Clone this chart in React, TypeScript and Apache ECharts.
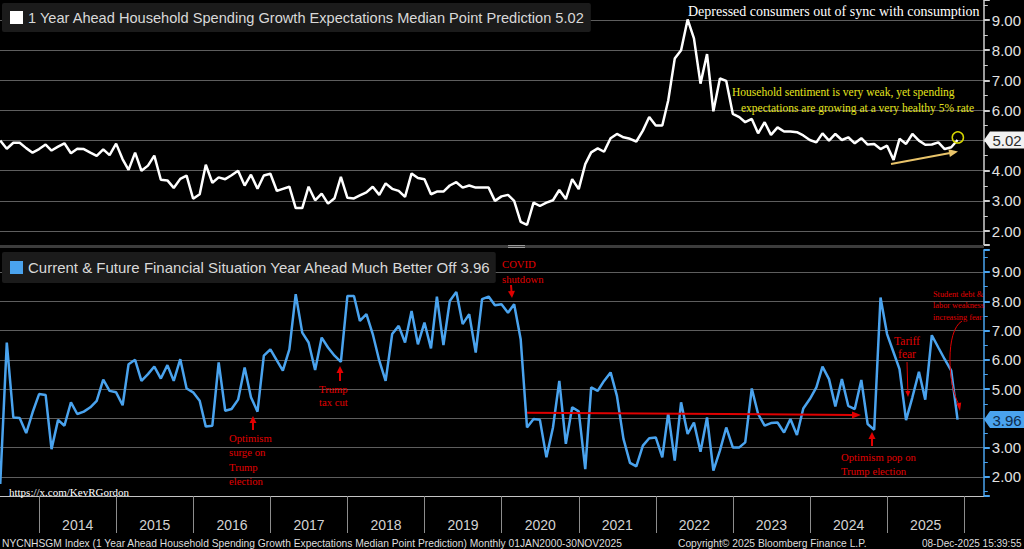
import React, { useEffect, useRef } from "react";
import * as echarts from "echarts";

// ---------- data (monthly, end of month, Jun 2013 .. Nov 2025) ----------
const START_YEAR = 2013;
const START_MONTH = 5; // June (0-based)

const spendingExpectations = [
  5.0, 4.73, 4.93, 4.93, 4.75, 4.6, 4.72, 4.87, 4.67, 4.8,
  4.91, 4.58, 4.73, 4.72, 4.6, 4.49, 4.71, 4.52, 4.9, 4.38,
  4.03, 4.6, 4.0, 4.17, 4.5, 3.7, 3.68, 3.43, 3.73, 3.84,
  3.07, 3.22, 4.2, 3.6, 3.78, 3.72, 3.85, 4.0, 3.51, 3.87,
  3.4, 3.84, 3.9, 3.33, 3.4, 3.47, 2.76, 2.76, 3.47, 3.02,
  3.24, 2.91, 3.09, 3.8, 3.1, 3.08, 3.18, 3.28, 3.47, 3.2,
  3.58, 3.4, 3.33, 3.13, 3.91, 3.76, 3.72, 3.22, 3.31, 3.31,
  3.51, 3.62, 3.44, 3.51, 3.44, 3.44, 3.44, 3.0, 3.15, 3.2,
  3.0, 2.3, 2.2, 2.94, 2.83, 2.94, 3.02, 3.36, 3.06, 3.72,
  3.39, 4.22, 4.61, 4.74, 4.63, 5.08, 5.22, 5.11, 5.06, 4.97,
  5.33, 5.78, 5.5, 5.5, 6.33, 7.72, 8.0, 9.02, 8.39, 6.89,
  7.87, 5.97, 7.06, 6.98, 5.89, 5.78, 5.61, 5.72, 5.24, 5.61,
  5.19, 5.44, 5.3, 5.3, 5.28, 5.17, 5.02, 4.94, 5.24, 5.0,
  5.22, 5.02, 5.11, 4.91, 5.08, 4.87, 4.89, 4.72, 4.83, 4.36,
  5.06, 4.89, 5.22, 5.0, 4.86, 4.87, 4.94, 4.72, 4.78, 5.02,
];

const financialBetterOff = [
  1.76, 6.59, 4.03, 4.01, 3.5, 4.2, 4.83, 4.8, 2.95, 3.95,
  3.75, 4.55, 4.15, 4.23, 4.38, 4.6, 5.32, 4.94, 4.89, 4.45,
  5.85, 6.0, 5.28, 5.51, 5.77, 5.36, 5.82, 5.28, 6.02, 5.02,
  4.89, 4.6, 3.72, 3.75, 5.91, 4.26, 4.32, 4.64, 5.74, 4.72,
  4.23, 6.14, 6.36, 5.97, 5.63, 6.36, 8.24, 6.93, 6.59, 5.65,
  6.76, 6.42, 6.14, 5.93, 8.18, 8.18, 7.33, 7.56, 6.88, 5.97,
  5.28, 6.88, 7.16, 6.59, 7.67, 6.53, 7.27, 6.39, 8.16, 6.5,
  8.01, 8.32, 7.22, 7.56, 6.25, 8.07, 8.16, 7.86, 7.9, 7.61,
  7.9, 6.7, 3.69, 3.98, 3.95, 2.67, 3.69, 5.28, 3.13, 4.38,
  4.24, 2.27, 5.06, 4.94, 5.28, 5.57, 4.77, 3.3, 2.48, 2.36,
  3.07, 3.32, 3.35, 2.67, 4.18, 2.56, 4.55, 3.47, 3.86, 2.86,
  4.03, 2.22, 2.9, 3.69, 3.01, 3.01, 3.18, 5.02, 4.15, 3.75,
  3.84, 3.86, 3.52, 3.98, 3.43, 4.34, 4.66, 5.06, 5.77, 5.34,
  4.41, 5.34, 4.43, 4.32, 5.31, 3.81, 3.61, 8.13, 6.88, 6.25,
  5.68, 3.94, 4.72, 5.59, 4.64, 6.84, 6.42, 6.02, 5.63, 3.96,
];

const yearLabels = [2014, 2015, 2016, 2017, 2018, 2019, 2020, 2021, 2022, 2023, 2024, 2025];
const yTickValues = [2, 3, 4, 5, 6, 7, 8, 9];

const TOP_NAME = "1 Year Ahead Household Spending Growth Expectations Median Point Prediction";
const BOTTOM_NAME = "Current & Future Financial Situation Year Ahead Much Better Off";

const FOOTER_LEFT =
  "NYCNHSGM Index (1 Year Ahead Household Spending Growth Expectations Median Point Prediction) Monthly 01JAN2000-30NOV2025";
const FOOTER_MID = "Copyright\u00a9 2025 Bloomberg Finance L.P.";
const FOOTER_RIGHT = "08-Dec-2025 15:39:55";

// ---------- helpers ----------
const SANS = '"Liberation Sans", Arial, Helvetica, sans-serif';
const SERIF = '"Liberation Serif", "Times New Roman", Times, serif';
const YEAR_MS = 365.25 * 86400000;

const dates = spendingExpectations.map((_, i) => Date.UTC(START_YEAR, START_MONTH + i + 1, 0));
const X_MIN = Date.UTC(2014, 0, 1) - 0.5097 * YEAR_MS;
const X_MAX = Date.UTC(2026, 0, 1) + 0.253 * YEAR_MS;

const topData = spendingExpectations.map((v, i) => [dates[i], v]);
const bottomData = financialBetterOff.map((v, i) => [dates[i], v]);

function arrow(x1: number, y1: number, x2: number, y2: number, color: string, w: number, hl: number, hw: number) {
  const dx = x2 - x1;
  const dy = y2 - y1;
  const len = Math.hypot(dx, dy);
  const ux = dx / len;
  const uy = dy / len;
  const bx = x2 - ux * hl;
  const by = y2 - uy * hl;
  const px = -uy;
  const py = ux;
  return [
    { type: "line", silent: true, z: 50, shape: { x1, y1, x2: bx + ux, y2: by + uy }, style: { stroke: color, lineWidth: w } },
    {
      type: "polygon",
      silent: true,
      z: 50,
      shape: { points: [[x2, y2], [bx + px * hw, by + py * hw], [bx - px * hw, by - py * hw]] },
      style: { fill: color },
    },
  ];
}

function txt(text: string, x: number, y: number, fill: string, size: number, family: string, align = "left") {
  return {
    type: "text",
    silent: true,
    z: 50,
    style: { text, x, y, fill, fontSize: size, fontFamily: family, align, verticalAlign: "middle" },
  };
}

const RED = "#e00000";
const RED_SIZE = 10.7;

function buildGraphics(pTop: number[], pBot: number[]) {
  const lastTop = spendingExpectations[spendingExpectations.length - 1];
  const lastBot = financialBetterOff[financialBetterOff.length - 1];
  const g: any[] = [];
  // panel separator
  g.push({ type: "rect", silent: true, z: 40, shape: { x: 0, y: 245, width: 984, height: 3 }, style: { fill: "#3c3c3c" } });
  g.push({ type: "line", silent: true, z: 41, shape: { x1: 508, y1: 245.5, x2: 525, y2: 245.5 }, style: { stroke: "#9a9a9a", lineWidth: 1 } });
  g.push({ type: "line", silent: true, z: 41, shape: { x1: 508, y1: 247.5, x2: 525, y2: 247.5 }, style: { stroke: "#9a9a9a", lineWidth: 1 } });

  // top annotations
  g.push(txt("Depressed consumers out of sync with consumption", 688, 11, "#ffffff", 14, SERIF));
  g.push(txt("Household sentiment is very weak, yet spending", 732, 92, "#e4e41e", 11.5, SERIF));
  g.push(txt("expectations are growing at a very healthy 5% rate", 741, 108, "#e4e41e", 11.5, SERIF));
  g.push({
    type: "circle",
    silent: true,
    z: 50,
    shape: { cx: pTop[0] + 0.3, cy: pTop[1] - 2.6, r: 5.6 },
    style: { fill: "none", stroke: "#d6d600", lineWidth: 1.5 },
  });
  g.push(...arrow(891, 164, 958, 151.5, "#e9c46a", 2, 9, 4));

  // end value labels
  const lab = (p: number[], val: number, bg: string, fg: string) => {
    const y = p[1];
    g.push({
      type: "polygon",
      silent: true,
      z: 60,
      shape: { points: [[984, y], [990, y - 8.5], [1024, y - 8.5], [1024, y + 8.5], [990, y + 8.5]] },
      style: { fill: bg },
    });
    g.push({
      type: "text",
      silent: true,
      z: 61,
      style: { text: val.toFixed(2), x: 1007, y: y + 0.5, fill: fg, fontSize: 15, fontFamily: SANS, align: "center", verticalAlign: "middle" },
    });
  };
  lab(pTop, lastTop, "#f2f2f2", "#2a2a2a");
  lab(pBot, lastBot, "#4aa3ee", "#0e2c4c");

  // bottom annotations
  g.push(txt("COVID", 502, 264, RED, RED_SIZE, SERIF));
  g.push(txt("shutdown", 502, 279, RED, RED_SIZE, SERIF));
  g.push(...arrow(511, 285, 512, 298, RED, 2, 7, 3.5));

  ["Optimism", "surge on", "Trump", "election"].forEach((s, i) => g.push(txt(s, 229, 438 + i * 14.3, RED, RED_SIZE, SERIF)));
  g.push(...arrow(253, 430, 253, 416, RED, 2, 7, 3.5));

  g.push(txt("Trump", 319, 389, RED, RED_SIZE, SERIF));
  g.push(txt("tax cut", 319, 402, RED, RED_SIZE, SERIF));
  g.push(...arrow(340, 381, 340, 366, RED, 2, 7, 3.5));

  g.push(...arrow(527, 412.7, 861, 415, RED, 2, 9, 3.5));

  g.push(txt("Optimism pop on", 841, 457, RED, RED_SIZE, SERIF));
  g.push(txt("Trump election", 841, 471, RED, RED_SIZE, SERIF));
  g.push(...arrow(872, 446, 872, 432, RED, 2, 7, 3.5));

  g.push(txt("Tariff", 907, 341, RED, 11.5, SERIF, "center"));
  g.push(txt("fear", 907, 354, RED, 11.5, SERIF, "center"));
  g.push(...arrow(907, 362, 908, 397, RED, 1, 6, 2.5));

  g.push(txt("Student debt &", 933, 294, RED, 8.3, SERIF));
  g.push(txt("labor weakness", 933, 305.5, RED, 8.3, SERIF));
  g.push(txt("increasing fear", 933, 317, RED, 8.3, SERIF));
  g.push({
    type: "bezierCurve",
    silent: true,
    z: 50,
    shape: { x1: 962, y1: 321, cpx1: 945, cpy1: 331, cpx2: 948, cpy2: 385, x2: 958.6, y2: 404 },
    style: { stroke: RED, lineWidth: 1, fill: "none" },
  });
  g.push({
    type: "polygon",
    silent: true,
    z: 50,
    shape: { points: [[960, 411], [956.3, 403.5], [961.2, 402.5]] },
    style: { fill: RED },
  });

  // credits
  g.push(txt("https://x.com/KevRGordon", 9, 492, "#ffffff", 11, SERIF));
  g.push(txt(FOOTER_LEFT, 2, 543, "#dedede", 10.25, SANS));
  g.push(txt(FOOTER_MID, 678, 543, "#dedede", 10.25, SANS));
  g.push(txt(FOOTER_RIGHT, 922, 543, "#dedede", 10, SANS));
  return g;
}

function yAxisFor(gridIndex: number, min: number, max: number, lineColor: string) {
  return {
    type: "value",
    gridIndex,
    position: "right",
    min,
    max,
    minInterval: 1,
    maxInterval: 1,
    axisLine: { show: true, onZero: false, lineStyle: { color: lineColor, width: 1.5 } },
    axisTick: { show: true, length: 6, lineStyle: { color: lineColor, width: 2 } },
    minorTick: { show: true, splitNumber: 2, length: 4, lineStyle: { color: lineColor, width: 1 } },
    axisLabel: {
      formatter: (v: number) => (yTickValues.indexOf(Math.round(v * 1000) / 1000) >= 0 ? v.toFixed(2) : ""),
      showMinLabel: false,
      showMaxLabel: false,
      color: "#e2e2e2",
      fontSize: 15,
      fontFamily: SANS,
      margin: 8,
    },
    splitLine: { show: true, showMinLine: false, showMaxLine: false, lineStyle: { color: "#5e5e5e", width: 1 } },
    minorSplitLine: { show: false },
  };
}

export default function App() {
  const ref = useRef<HTMLDivElement>(null);

  useEffect(() => {
    document.body.style.margin = "0";
    document.body.style.background = "#000";
    if (!ref.current) return;
    const chart = echarts.init(ref.current, undefined, { renderer: "svg" });
    const lastTop = spendingExpectations[spendingExpectations.length - 1];
    const lastBot = financialBetterOff[financialBetterOff.length - 1];

    const legendCommon = {
      orient: "horizontal",
      left: 2,
      backgroundColor: "#1b1b1b",
      borderRadius: 2,
      itemWidth: 13,
      itemHeight: 13,
      itemGap: 0,
      icon: "rect",
      selectedMode: false,
    };

    const option: any = {
      animation: false,
      backgroundColor: "#000000",
      grid: [
        { left: 0, right: 40, top: 0, height: 245 },
        { left: 0, right: 40, top: 250, height: 246 },
      ],
      xAxis: [
        { type: "value", gridIndex: 0, min: X_MIN, max: X_MAX, show: false, splitLine: { show: false } },
        {
          type: "value",
          gridIndex: 1,
          min: X_MIN,
          max: X_MAX,
          axisLine: { show: true, onZero: false, lineStyle: { color: "#c4c4c4", width: 1 } },
          axisTick: {
            show: true,
            customValues: yearLabels.map((y) => Date.UTC(y, 0, 1)).concat([Date.UTC(2026, 0, 1)]),
            length: 37,
            lineStyle: { color: "#8c8c8c", width: 1 },
          },
          axisLabel: {
            customValues: yearLabels.map((y) => Date.UTC(y, 6, 2)),
            formatter: (v: number) => String(new Date(v).getUTCFullYear()),
            color: "#d2d2d2",
            fontSize: 14,
            fontFamily: SANS,
            margin: 22,
          },
          splitLine: { show: false },
        },
      ],
      yAxis: [yAxisFor(0, 1.536, 9.665, "#cfcfcf"), yAxisFor(1, 1.35, 9.75, "#4aa3ee")],
      legend: [
        {
          ...legendCommon,
          top: 3,
          padding: [7, 6, 7, 8],
          data: [TOP_NAME],
          textStyle: { color: "#d9d9d9", fontSize: 14.6, fontFamily: SANS },
          formatter: (n: string) => `${n} ${lastTop.toFixed(2)}`,
        },
        {
          ...legendCommon,
          top: 252,
          padding: [8, 5, 8, 8],
          data: [BOTTOM_NAME],
          textStyle: { color: "#d9d9d9", fontSize: 15, fontFamily: SANS },
          formatter: (n: string) => `${n} ${lastBot.toFixed(2)}`,
        },
      ],
      series: [
        {
          name: TOP_NAME,
          type: "line",
          xAxisIndex: 0,
          yAxisIndex: 0,
          data: topData,
          showSymbol: false,
          symbol: "none",
          lineStyle: { color: "#ffffff", width: 2.5 },
          itemStyle: { color: "#ffffff" },
        },
        {
          name: BOTTOM_NAME,
          type: "line",
          xAxisIndex: 1,
          yAxisIndex: 1,
          data: bottomData,
          showSymbol: false,
          symbol: "none",
          lineStyle: { color: "#4aa3ee", width: 2.5 },
          itemStyle: { color: "#4aa3ee" },
        },
      ],
    };

    chart.setOption(option);
    const last = dates.length - 1;
    const pTop = chart.convertToPixel({ gridIndex: 0 } as any, [dates[last], lastTop]) as number[];
    const pBot = chart.convertToPixel({ gridIndex: 1 } as any, [dates[last], lastBot]) as number[];
    chart.setOption({ graphic: buildGraphics(pTop, pBot) });

    return () => chart.dispose();
  }, []);

  return <div ref={ref} style={{ position: "absolute", left: 0, top: 0, width: 1024, height: 549 }} />;
}
